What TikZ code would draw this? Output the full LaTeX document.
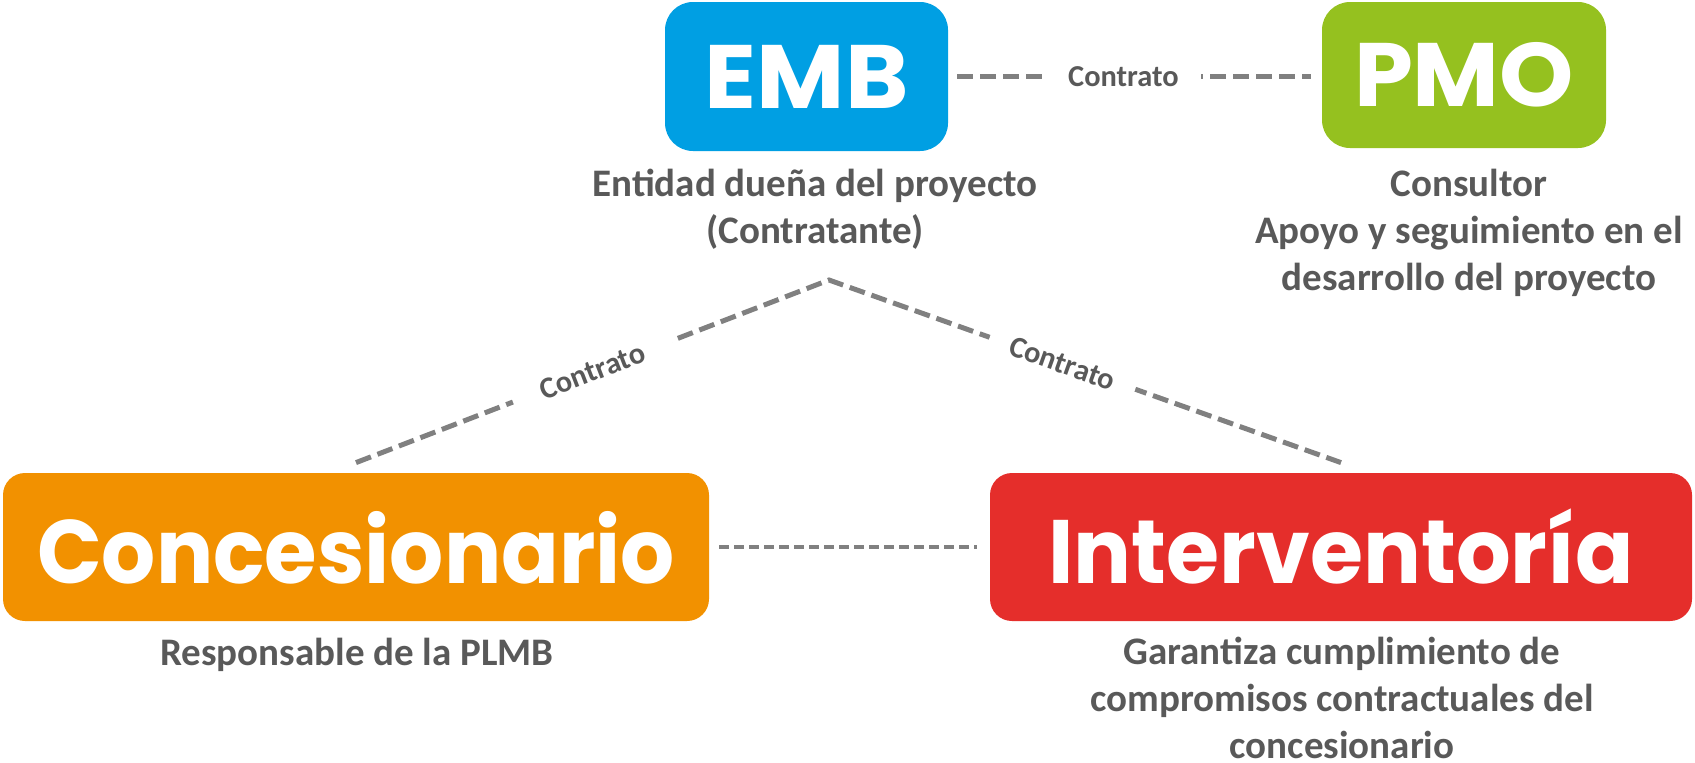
\documentclass[tikz,border=0pt]{standalone}
\usepackage{fontspec}
\setmainfont{Carlito}
\newfontfamily\boxfont{Poppins}
\definecolor{embblue}{HTML}{009FE3}
\definecolor{pmogreen}{HTML}{95C11F}
\definecolor{concorange}{HTML}{F29100}
\definecolor{intred}{HTML}{E52E2B}
\definecolor{txtgray}{HTML}{595959}
\definecolor{lgray}{HTML}{808080}
\begin{document}
\begin{tikzpicture}[x=0.5pt,y=-0.5pt,
  orgbox/.style={rounded corners=14pt, inner sep=0pt, text=white,
    font=\boxfont\bfseries\fontsize{45}{45}\selectfont, text height=31.5pt, text depth=0pt},
  lbl/.style={text=txtgray, font=\bfseries\fontsize{19.5}{23.5}\selectfont, align=center, inner sep=0pt},
  contract/.style={draw=lgray, line width=2.5pt, dash pattern=on 8pt off 3.5pt},
  dotline/.style={draw=lgray, line width=2pt, dash pattern=on 5pt off 2.5pt},
  ctext/.style={text=txtgray, font=\bfseries\fontsize{15.2}{16}\selectfont, fill=white, inner xsep=11pt, inner ysep=2pt}
]
\useasboundingbox (0,0) rectangle (1695,762);
\node[orgbox, fill=embblue, minimum width=141.5pt, minimum height=74.5pt] (emb) at (806.5,76.5) {\scalebox{1.07}[1]{EMB}};
\node[orgbox, fill=pmogreen, minimum width=142pt, minimum height=73pt] (pmo) at (1464,75) {\scalebox{1.05}[1]{PMO}};
\node[orgbox, fill=concorange, minimum width=353pt, minimum height=74pt, rounded corners=11pt, text height=36pt] (conc) at (356,547) {\scalebox{0.945}[1]{Concesionario}};
\node[orgbox, fill=intred, minimum width=351pt, minimum height=74pt, rounded corners=11pt, text height=36pt] (interv) at (1341,547) {\scalebox{0.955}[1]{Interventoría}};

\node[lbl, anchor=north] (embtxt) at (815,169) {Entidad dueña del proyecto\\(Contratante)};
\node[lbl, anchor=north] (pmotxt) at (1469,169) {Consultor\\Apoyo y seguimiento en el\\desarrollo del proyecto};
\node[lbl, anchor=north] (conctxt) at (357,638) {Responsable de la PLMB};
\node[lbl, anchor=north] (inttxt) at (1342,637) {Garantiza cumplimiento de\\compromisos contractuales del\\concesionario};

\coordinate (apex) at (829,280);

\draw[contract] ([xshift=4.5pt]emb.east) -- node[ctext, pos=0.47] (c1) {Contrato} ([xshift=-5.5pt]emb.east -| pmo.west);
\draw[contract] ([yshift=5pt]conc.north) -- node[ctext, sloped, pos=0.5, inner xsep=15pt] (c2) {Contrato} (apex)
  -- node[ctext, sloped, pos=0.456] (c3) {Contrato} ([yshift=5pt]interv.north);
\draw[dotline] ([xshift=5pt]conc.east) -- ([xshift=-6.5pt]interv.west);
\end{tikzpicture}
\end{document}
